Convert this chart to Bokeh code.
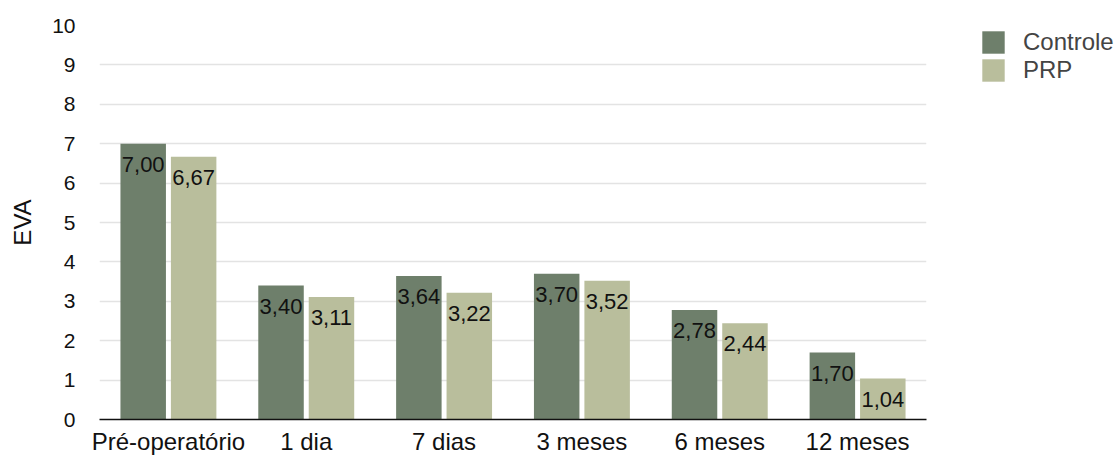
from bokeh.plotting import figure
from bokeh.models import ColumnDataSource, FactorRange, Legend, LegendItem, FixedTicker
from bokeh.transform import dodge
from bokeh.embed import file_html
from bokeh.resources import INLINE

periods = ["Pré-operatório", "1 dia", "7 dias", "3 meses", "6 meses", "12 meses"]
controle = [7.00, 3.40, 3.64, 3.70, 2.78, 1.70]
prp = [6.67, 3.11, 3.22, 3.52, 2.44, 1.04]
y_ticks = [0, 1, 2, 3, 4, 5, 6, 7, 8, 9, 10]

FONT = "Liberation Sans"
C_CONTROLE = "#6e7f6b"
C_PRP = "#b9be9c"
INK = "#111111"


def fmt(v):
    return f"{v:.2f}".replace(".", ",")


src = ColumnDataSource(dict(
    period=periods,
    controle=controle,
    prp=prp,
    controle_lbl=[fmt(v) for v in controle],
    prp_lbl=[fmt(v) for v in prp],
))

p = figure(
    x_range=FactorRange(*periods, range_padding=0),
    y_range=(0, 10),
    frame_width=827, frame_height=394,
    output_backend="svg", toolbar_location=None,
    min_border_left=99, min_border_right=190,
    min_border_top=25, min_border_bottom=38,
)
p.outline_line_color = None
p.background_fill_color = "white"

bw = 0.33
off = 0.183
r1 = p.vbar(x=dodge("period", -off, range=p.x_range), top="controle", width=bw,
            source=src, fill_color=C_CONTROLE, line_color=None)
r2 = p.vbar(x=dodge("period", off, range=p.x_range), top="prp", width=bw,
            source=src, fill_color=C_PRP, line_color=None)

# value labels just inside the top of each bar
for xo, col in ((-off, "controle"), (off, "prp")):
    p.text(x=dodge("period", xo, range=p.x_range), y=col, text=col + "_lbl",
           source=src, text_align="center", text_baseline="top", y_offset=13,
           text_font={"value": FONT}, text_font_size="22px", text_color=INK)

# axes
p.xaxis.axis_line_color = INK
p.xaxis.axis_line_width = 1.5
p.xaxis.major_tick_line_color = None
p.xaxis.minor_tick_line_color = None
p.xaxis.major_label_standoff = 2
p.xaxis.major_label_text_font = FONT
p.xaxis.major_label_text_font_size = "24px"
p.xaxis.major_label_text_color = INK

p.yaxis.ticker = FixedTicker(ticks=y_ticks)
p.yaxis.axis_line_color = None
p.yaxis.major_tick_line_color = None
p.yaxis.minor_tick_line_color = None
p.yaxis.major_label_standoff = 18
p.yaxis.major_label_text_font = FONT
p.yaxis.major_label_text_font_size = "21px"
p.yaxis.major_label_text_color = INK
p.yaxis.axis_label = "EVA"
p.yaxis.axis_label_text_font = FONT
p.yaxis.axis_label_text_font_size = "24px"
p.yaxis.axis_label_text_font_style = "normal"
p.yaxis.axis_label_text_color = INK
p.yaxis.axis_label_standoff = 13

p.xgrid.grid_line_color = None
p.ygrid.grid_line_color = "#e3e3e3"
p.ygrid.grid_line_width = 1.5

legend = Legend(
    items=[LegendItem(label="Controle", renderers=[r1]),
           LegendItem(label="PRP", renderers=[r2])],
    location=(53, 335),
    orientation="vertical",
    glyph_width=28, glyph_height=28,
    spacing=0, padding=0, margin=0,
    label_standoff=16,
    label_text_font=FONT, label_text_font_size="24px", label_text_color="#444444",
    border_line_color=None, background_fill_alpha=0,
)
p.add_layout(legend, "right")

open("out.html", "w").write(file_html(p, INLINE))
